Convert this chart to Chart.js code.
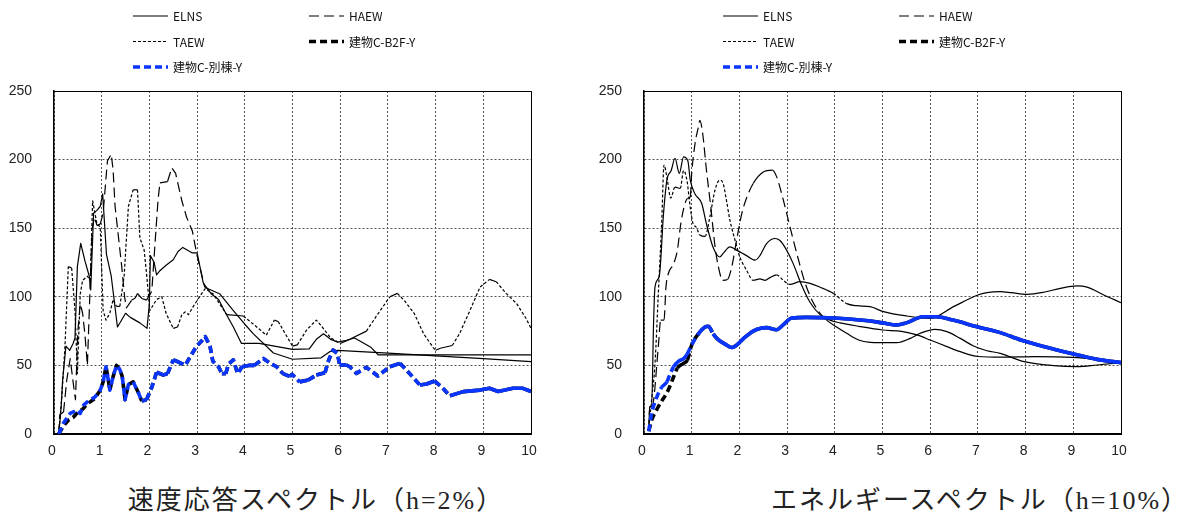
<!DOCTYPE html>
<html>
<head>
<meta charset="utf-8">
<script src="https://cdn.jsdelivr.net/npm/chart.js@4.4.1/dist/chart.umd.min.js"></script>
<style>
  html, body { margin: 0; padding: 0; background: #fff; }
  #wrap { position: relative; width: 1177px; height: 519px; overflow: hidden; background: #fff; }
  canvas { position: absolute; top: 0; }
  #velChart { left: 0; }
  #engChart { left: 590px; }
  .cap {
    position: absolute; top: 485px; height: 32px; line-height: 32px;
    font-family: "Liberation Serif", "Noto Sans CJK JP", serif;
    font-size: 26px; letter-spacing: 2px; color: #222;
    white-space: nowrap; transform: translateX(-50%);
  }
</style>
</head>
<body>
<div id="wrap">
  <canvas id="velChart" width="590" height="470"></canvas>
  <canvas id="engChart" width="587" height="470"></canvas>
  <div class="cap" style="left:316px">速度応答スペクトル（h=2%）</div>
  <div class="cap" style="left:980px">エネルギースペクトル（h=10%）</div>
</div>
<script>
// ---- labels and ticks ----
const seriesNames = ['ELNS', 'HAEW', 'TAEW', '建物C-B2F-Y', '建物C-別棟-Y'];
const xTicks = [0, 1, 2, 3, 4, 5, 6, 7, 8, 9, 10];
const yTicks = [0, 50, 100, 150, 200, 250];

// ---- velocity response spectrum (h=2%) : period [s] / value ----
const velElnsT = [0.10,0.15,0.18,0.25,0.33,0.40,0.44,0.49,0.56,0.65,0.74,0.77,0.83,0.90,0.97,1.02,1.10,1.20,1.33,1.40,1.50,1.60,1.80,1.95,2.00,2.02,2.10,2.15,2.22,2.35,2.50,2.60,2.70,2.80,2.90,3.00,3.13,3.30,3.45,3.60,3.76,3.93,4.30,5.00,5.35,5.50,5.65,5.80,5.95,6.10,6.30,6.45,6.65,6.80,10.0];
const velElnsV = [0,20,39,64,61,66,70,122,139,126,115,105,161,163,166,175,131,115,78,82,88,85,81,77,95,130,125,116,119,123,127,133,136,134,132,132,110,102,98,88,78,66,66,61.7,62,69,73,69,67,68,70,67,63,57.6,57.6];

const velHaewT = [0.10,0.12,0.20,0.27,0.34,0.40,0.45,0.50,0.55,0.60,0.65,0.70,0.75,0.80,0.85,0.90,0.97,1.03,1.12,1.20,1.24,1.28,1.35,1.42,1.48,1.52,1.63,1.70,1.75,1.84,1.94,2.05,2.12,2.18,2.22,2.38,2.47,2.55,2.68,2.78,2.90,3.00,3.16,3.48,3.76,4.00,4.18,4.60,5.00,5.60,5.78,5.95,7.00,8.00,9.00,10.0];
const velHaewV = [0,14,16,40,55,38,25,75,95,88,72,50,100,150,158,152,153,161,199,204,192,166,144,122,100,92,97.6,99,102.4,98.8,97.6,104,140,170,183,184,194,190,170,158,148,130,107,102,90,80,73,59,54.5,55.5,60,61,59,57,55,52.7];

const velTaewT = [0.10,0.16,0.23,0.30,0.37,0.44,0.49,0.55,0.60,0.70,0.76,0.81,0.90,0.97,1.03,1.09,1.17,1.24,1.31,1.38,1.47,1.56,1.66,1.75,1.80,1.89,1.94,2.01,2.15,2.26,2.35,2.50,2.59,2.68,2.75,2.82,2.92,3.05,3.17,3.34,3.62,3.97,4.32,4.45,4.62,4.70,5.00,5.10,5.30,5.50,5.60,5.80,6.00,6.20,6.55,6.76,7.04,7.20,7.35,7.55,7.75,7.95,8.00,8.10,8.35,8.50,8.72,8.93,9.13,9.27,9.48,9.70,9.90,10.0];
const velTaewV = [0,25,64,122,121,90,44,102,112,115,112,170,153,151,90,83,88,98,93,93,115,166,178,178,143,134,117,90,98,100,88,77,78,87,89,87,93,100,106,102,87,86,76,72,83,82,64,65,76,83,79,70,66,69,75,86,100,102.5,97,88,73,63,61,62.5,64.5,73,90,107,112.7,111,102.5,95,84,77];

const velB2fT = [0.10,0.20,0.30,0.40,0.50,0.60,0.70,0.86,0.97,1.03,1.09,1.14,1.17,1.24,1.31,1.38,1.43,1.49,1.56,1.66,1.77,1.84,1.94,2.05,2.15,2.29,2.38,2.50,2.58,2.75,2.85,2.99,3.10,3.17,3.27,3.33,3.45,3.52,3.60,3.66,3.76,3.85,3.94,4.08,4.20,4.39,4.53,4.67,4.80,4.94,4.99,5.15,5.33,5.50,5.68,5.76,5.85,5.94,5.99,6.13,6.20,6.34,6.55,6.79,7.04,7.25,7.39,7.67,7.81,7.98,8.12,8.30,8.58,8.93,9.13,9.31,9.62,9.83,10.0];
const velB2fV = [0,6,10,12,16,18,22,26,32,38,49,39,32,42,50,47,42,25,36,38,30,24,25,34,45,43,44,54,53,50,56,64,68,71,64,53,49,44,44,51,54,44,49,50,50,55,51.5,49,44,42,43.5,38,39.3,43,44.7,54,61.2,58.8,50.3,50.3,49,44.2,48.6,42.3,49,51.5,46.6,35.7,36.4,38.6,34.5,27.9,30.9,32,33.3,31,33.3,33.3,31];

const velAnnexT = [0.10,0.20,0.34,0.48,0.55,0.62,0.72,0.86,0.97,1.03,1.09,1.14,1.17,1.24,1.31,1.38,1.43,1.49,1.56,1.66,1.77,1.84,1.94,2.05,2.15,2.29,2.38,2.50,2.58,2.75,2.85,2.99,3.10,3.17,3.27,3.33,3.45,3.52,3.60,3.66,3.76,3.85,3.94,4.08,4.20,4.39,4.53,4.67,4.80,4.94,4.99,5.15,5.33,5.50,5.68,5.76,5.85,5.94,5.99,6.13,6.20,6.34,6.55,6.79,7.04,7.25,7.39,7.67,7.81,7.98,8.12,8.30,8.58,8.93,9.13,9.31,9.62,9.83,10.0];
const velAnnexV = [0,8,15,17.5,15,21,24,27,32,38,49,39,32,42,50,47,42,25,36,38,30,24,25,34,45,43,44,54,53,50,56,64,68,71,64,53,49,44,44,51,54,44,49,50,50,55,51.5,49,44,42,43.5,38,39.3,43,44.7,54,61.2,58.8,50.3,50.3,49,44.2,48.6,42.3,49,51.5,46.6,35.7,36.4,38.6,34.5,27.9,30.9,32,33.3,31,33.3,33.3,31];

// ---- energy spectrum (h=10%) : period [s] / value ----
const engElnsT = [0.10,0.12,0.16,0.20,0.23,0.32,0.41,0.48,0.57,0.65,0.74,0.83,0.92,0.97,1.07,1.21,1.31,1.45,1.59,1.66,1.80,1.94,2.15,2.33,2.43,2.57,2.75,2.85,2.99,3.13,3.31,3.48,3.69,3.90,4.11,4.50,5.00,5.40,5.72,6.00,6.35,6.63,7.00,7.50,8.20,9.00,9.60,10.0];
const engElnsV = [3,20,20,80,107,115,161,185,192,201,190,202,199,185,175,168,153,136,129,131.6,136.4,134,130,126.7,130,138.8,142.5,141,134,124,108,96,87,83,81,78.5,75.8,74.8,72.2,68.5,63.7,60,56.5,56,56.4,55.8,54,52];

const engHaewT = [0.10,0.12,0.17,0.30,0.35,0.42,0.46,0.51,0.62,0.70,0.77,0.84,0.91,0.97,1.00,1.07,1.14,1.17,1.23,1.31,1.40,1.49,1.56,1.65,1.75,1.84,1.94,2.05,2.15,2.29,2.50,2.69,2.78,2.92,3.06,3.24,3.38,3.52,3.69,3.83,4.03,4.25,4.50,4.74,4.95,5.30,5.58,5.79,6.10,6.35,6.63,6.91,7.19,7.47,7.97,8.59,9.08,9.50,10.0];
const engHaewV = [3,20,20,63.6,83,83,107,117,124,134,153,165.5,171.6,172.8,190,211.7,223.8,228.6,219,192,165.5,136.4,121.8,112,112.6,121.8,141,160.7,172,182.7,191,192.4,187.6,170.6,151,126.8,109.8,97.7,88,83,78.2,73.4,68.5,66.8,66.6,66.6,69.7,73.4,76.3,74.6,69.7,64.1,60.7,58.8,52.7,49.8,49.1,50.3,52];

const engTaewT = [0.10,0.16,0.23,0.30,0.37,0.42,0.49,0.56,0.65,0.76,0.83,0.90,0.97,1.03,1.09,1.17,1.28,1.38,1.49,1.59,1.66,1.73,1.80,1.91,2.01,2.15,2.29,2.43,2.54,2.64,2.78,2.92,3.06,3.27,3.48,3.69,3.97,4.25,4.46,4.74,5.02,5.51,6.00,6.50,7.00,7.19,7.47,7.70,8.03,8.38,8.73,9.08,9.29,9.64,10.0];
const engTaewV = [5,25,51,102,153,196,185,172,180,179,192,185,165,153,151,145,144,158,178,185,182.5,170,156,141,129,119.4,112,113,112,114,116,112,109,111,109.8,107,102.5,95,93.5,92.8,89.2,86,84.3,93,101.3,103,103.7,103,101.8,103.3,106.2,107.9,107,101.3,95.7];

const engB2fT = [0.10,0.16,0.27,0.37,0.48,0.58,0.70,0.83,0.91,1.00,1.14,1.28,1.35,1.45,1.55,1.70,1.84,1.95,2.10,2.29,2.45,2.57,2.78,2.90,3.10,3.40,4.00,4.70,5.00,5.30,5.50,5.85,6.13,6.48,6.98,7.47,7.90,8.38,8.94,9.50,10.0];
const engB2fV = [2,10,18,24,30,38,48,51.5,54,65,73,78,78.5,73,69,65.5,63,65,70,75,77,77.5,76,79,84.5,85,84.5,82.5,81,79.5,81,85.5,85.5,83,78.2,73.9,68.5,63.7,58.8,54.4,52];

const engAnnexT = [0.10,0.16,0.27,0.37,0.48,0.55,0.62,0.72,0.83,0.90,1.00,1.14,1.28,1.35,1.45,1.55,1.70,1.84,1.95,2.10,2.29,2.45,2.57,2.78,2.90,3.10,3.40,4.00,4.70,5.00,5.30,5.50,5.85,6.13,6.48,6.98,7.47,7.90,8.38,8.94,9.50,10.0];
const engAnnexV = [2,15,27,34,38,44,49,53,55,58,65,73,78,78.5,73,69,65.5,63,65,70,75,77,77.5,76,79,84.5,85,84.5,82.5,81,79.5,81,85.5,85.5,83,78.2,73.9,68.5,63.7,58.8,54.4,52];

// ---- helpers ----
const toPoints = (t, v) => t.map((x, i) => ({ x: x, y: v[i] }));

// dashes show on the steep stretches of a curve, the flat stretches read as solid
function dashOnSteep(pattern, limit) {
  return ctx => {
    const dx = Math.abs(ctx.p1.x - ctx.p0.x) || 0.001;
    const dy = Math.abs(ctx.p1.y - ctx.p0.y);
    return dy / dx > limit ? pattern : [];
  };
}

const BLUE = '#0a35ff';
const lineLooks = [
  { color: '#000', width: 1.2, dash: [],      z: 2 },   // ELNS
  { color: '#000', width: 1.2, dash: [10, 5], z: 2 },   // HAEW
  { color: '#000', width: 1.2, dash: [3, 2],  z: 2 },   // TAEW
  { color: '#000', width: 3.6, dash: [7, 4],  z: 1 },   // 建物C-B2F-Y
  { color: BLUE,   width: 3.6, dash: [7, 4],  z: 0 }    // 建物C-別棟-Y
];

function buildDatasets(series, limits, smooth) {
  return series.map((s, i) => {
    const look = lineLooks[i];
    return {
      label: seriesNames[i],
      data: toPoints(s[0], s[1]),
      borderColor: look.color,
      borderWidth: look.width,
      legendDash: look.dash,
      order: look.z,
      pointRadius: 0,
      fill: false,
      borderJoinStyle: 'round',
      tension: 0,
      cubicInterpolationMode: smooth ? 'monotone' : 'default',
      segment: { borderDash: dashOnSteep(look.dash, limits[i]) }
    };
  });
}

// two-column legend above the plot
const pairLegend = {
  id: 'pairLegend',
  afterDraw(chart, args, opts) {
    const ctx = chart.ctx;
    ctx.save();
    ctx.font = '12px "Noto Sans CJK JP", "DejaVu Sans", sans-serif';
    ctx.textBaseline = 'middle';
    chart.data.datasets.forEach((ds, i) => {
      const col = i % 2, row = Math.floor(i / 2);
      const x0 = opts.x + col * opts.colGap;
      const y = opts.y + row * opts.rowGap;
      ctx.beginPath();
      ctx.setLineDash(ds.legendDash);
      ctx.lineWidth = ds.borderWidth;
      ctx.strokeStyle = ds.borderColor;
      ctx.lineCap = 'butt';
      ctx.moveTo(x0, y);
      ctx.lineTo(x0 + opts.len, y);
      ctx.stroke();
      ctx.setLineDash([]);
      ctx.fillStyle = '#111';
      ctx.fillText(ds.label, x0 + opts.len + 5, y + 0.5);
    });
    ctx.restore();
  }
};

// closes the plot box on the top and right
const plotFrame = {
  id: 'plotFrame',
  beforeDatasetsDraw(chart) {
    const { ctx, chartArea: a } = chart;
    ctx.save();
    ctx.strokeStyle = '#000';
    ctx.lineWidth = 1;
    ctx.setLineDash([]);
    ctx.beginPath();
    ctx.moveTo(a.left, Math.round(a.top) + 0.5);
    ctx.lineTo(Math.round(a.right) + 0.5, Math.round(a.top) + 0.5);
    ctx.lineTo(Math.round(a.right) + 0.5, a.bottom);
    ctx.stroke();
    ctx.restore();
  }
};

function makeChart(id, series, limits, smooth, padRight) {
  const tickFont = { family: '"Liberation Sans", Arial, sans-serif', size: 14 };
  const gridLook = { color: '#555', lineWidth: 1, drawTicks: false };
  return new Chart(document.getElementById(id), {
    type: 'line',
    data: { datasets: buildDatasets(series, limits, smooth) },
    plugins: [plotFrame, pairLegend],
    options: {
      responsive: false,
      animation: false,
      devicePixelRatio: 1,
      layout: { padding: { left: 0, top: 91, right: padRight, bottom: 12 } },
      plugins: {
        legend: { display: false },
        tooltip: { enabled: false },
        pairLegend: { x: 133, y: 16, colGap: 176, rowGap: 25.5, len: 35 }
      },
      scales: {
        x: {
          type: 'linear', min: 0, max: 10,
          afterBuildTicks: s => { s.ticks = xTicks.map(v => ({ value: v })); },
          afterFit: s => { s.height = 24; },
          grid: gridLook,
          border: { display: true, color: '#000', width: 2, dash: [2, 2] },
          ticks: { padding: 9, color: '#222', font: tickFont, maxRotation: 0, autoSkip: false, labelOffset: -2 }
        },
        y: {
          min: 0, max: 250,
          afterBuildTicks: s => { s.ticks = yTicks.map(v => ({ value: v })); },
          afterFit: s => { s.width = 54; },
          grid: gridLook,
          border: { display: true, color: '#000', width: 1.5, dash: [2, 2] },
          ticks: { padding: 22, color: '#222', font: tickFont }
        }
      }
    }
  });
}

makeChart('velChart', [
  [velElnsT, velElnsV], [velHaewT, velHaewV], [velTaewT, velTaewV],
  [velB2fT, velB2fV], [velAnnexT, velAnnexV]
], [Infinity, 1.3, 0.5, 0.5, 0.5], false, 59);

makeChart('engChart', [
  [engElnsT, engElnsV], [engHaewT, engHaewV], [engTaewT, engTaewV],
  [engB2fT, engB2fV], [engAnnexT, engAnnexV]
], [Infinity, 1.3, 0.6, 1.4, 1.4], true, 56);
</script>
</body>
</html>
